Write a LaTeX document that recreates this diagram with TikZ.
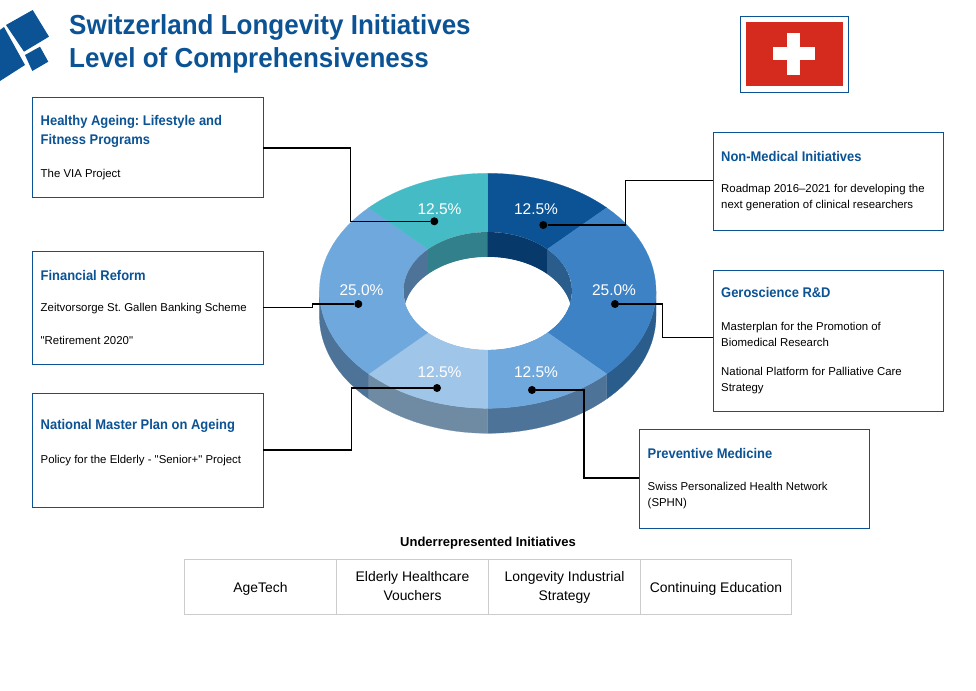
\documentclass[tikz,border=0pt]{standalone}
\usepackage{fontspec}
\setmainfont{Liberation Sans}
\newfontfamily\bodyfont{Liberation Sans}
\newfontfamily\titlefont[FakeStretch=0.945]{Liberation Sans}
\newfontfamily\headfont[FakeStretch=0.925]{Liberation Sans}
\frenchspacing
\definecolor{navy}{HTML}{0B5394}
\definecolor{cDark}{HTML}{0B5394}
\definecolor{cMid}{HTML}{3D82C5}
\definecolor{cLight}{HTML}{6FA8DC}
\definecolor{cPale}{HTML}{9FC5E8}
\definecolor{cTeal}{HTML}{45BBC6}
\definecolor{sMid}{HTML}{2A5D8C}
\definecolor{sLight}{HTML}{4E7399}
\definecolor{sPale}{HTML}{6F8BA4}
\definecolor{sTeal}{HTML}{31808B}
\definecolor{sDark}{HTML}{07396A}
\definecolor{flagred}{HTML}{D52B1E}
\definecolor{tblgrey}{HTML}{CCCCCC}
\def\cx{487.7}\def\cy{290.8}\def\rxo{168.3}\def\ryo{117.5}\def\rxi{84.15}\def\ryi{58.75}\def\dep{25}
\newcommand\ringpart[3]{\path[fill=#3,draw=#3,line width=.2pt]
  plot[domain=#1:#2,samples=30] ({\cx+\rxo*sin(\x)},{\cy-\ryo*cos(\x)}) --
  plot[domain=#2:#1,samples=30] ({\cx+\rxi*sin(\x)},{\cy-\ryi*cos(\x)}) -- cycle;}
\newcommand\outerwall[3]{\path[fill=#3,draw=#3,line width=.2pt]
  plot[domain=#1:#2,samples=30] ({\cx+\rxo*sin(\x)},{\cy-\ryo*cos(\x)}) --
  plot[domain=#2:#1,samples=30] ({\cx+\rxo*sin(\x)},{\cy+\dep-\ryo*cos(\x)}) -- cycle;}
\newcommand\innerwall[3]{\path[fill=#3,draw=#3,line width=.2pt]
  plot[domain=#1:#2,samples=30] ({\cx+\rxi*sin(\x)},{\cy-\ryi*cos(\x)}) --
  plot[domain=#2:#1,samples=30] ({\cx+\rxi*sin(\x)},{\cy+\dep-\ryi*cos(\x)}) -- cycle;}
\newcommand\twolines[2]{\rule{0pt}{12pt}#1\\#2\rule[-4pt]{0pt}{4pt}}
\tikzset{
  infobox/.style={draw=navy,line width=.9pt,fill=white,anchor=north west,inner sep=0pt,outer sep=0pt},
  headtext/.style={anchor=west,inner sep=0pt,font=\headfont\bfseries\fontsize{14}{19.5}\selectfont,text=navy,align=left},
  bodytext/.style={anchor=west,inner sep=0pt,font=\bodyfont\fontsize{11.4}{16}\selectfont,text=black,align=left},
  pct/.style={inner sep=0pt,font=\fontsize{15.5}{18}\selectfont,text=white},
  pin/.style={circle,fill=black,inner sep=0pt,minimum size=8pt},
  link/.style={draw=black,line width=1.5pt},
  cell/.style={draw=tblgrey,line width=.8pt,anchor=north west,inner sep=2pt,outer sep=0pt,minimum width=152pt,minimum height=55pt,align=center,font=\fontsize{13.9}{19}\selectfont},
  maintitle/.style={anchor=west,inner sep=0pt,font=\titlefont\bfseries\fontsize{27.5}{33}\selectfont,text=navy},
}
\begin{document}
\begin{tikzpicture}[x=1pt,y=-1pt]
\useasboundingbox (0,0) rectangle (976,690);
% logo
\fill[navy] (6,25) -- (32.7,10) -- (49,36.7) -- (24,51.7) -- cycle;
\fill[navy] (25,55) -- (40,46.7) -- (48.3,61.7) -- (32.3,71) -- cycle;
\fill[navy] (0,30) -- (4,27) -- (25,65) -- (0,81) -- cycle;
% title
\node[maintitle] (t1) at (69,27.5) {Switzerland Longevity Initiatives};
\node[maintitle] (t2) at (69,60.5) {Level of Comprehensiveness};
% flag
\node[draw=navy,line width=.9pt,anchor=north west,outer sep=0pt,minimum width=108pt,minimum height=76pt,inner sep=0pt] (flagbox) at (740,16) {};
\fill[flagred] (745.5,22) rectangle (843,86);
\fill[white] (773,47) rectangle (815,60);
\fill[white] (787,33) rectangle (800,75);
% donut outer walls
\outerwall{90}{135}{sMid}
\outerwall{135}{180}{sLight}
\outerwall{180}{225}{sPale}
\outerwall{225}{270}{sLight}
% top face
\ringpart{0}{45}{cDark}
\ringpart{45}{135}{cMid}
\ringpart{135}{180}{cLight}
\ringpart{180}{225}{cPale}
\ringpart{225}{315}{cLight}
\ringpart{315}{360}{cTeal}
% hole
\begin{scope}
\clip (\cx,\cy) ellipse [x radius=\rxi, y radius=\ryi];
\fill[white] (\cx,\cy) ellipse [x radius=\rxi, y radius=\ryi];
\innerwall{270}{315}{sLight}
\innerwall{315}{360}{sTeal}
\innerwall{0}{45}{sDark}
\innerwall{45}{90}{sMid}
\fill[white] (\cx,\cy+\dep) ellipse [x radius=\rxi, y radius=\ryi];
\end{scope}
% percentages
\node[pct] (p1) at (439.5,209.5) {12.5\%};
\node[pct] (p2) at (536,209.5) {12.5\%};
\node[pct] (p3) at (361.5,290.5) {25.0\%};
\node[pct] (p4) at (614,290.5) {25.0\%};
\node[pct] (p5) at (439.5,372) {12.5\%};
\node[pct] (p6) at (536,372) {12.5\%};
% boxes
\node[infobox,minimum width=230.5pt,minimum height=99.5pt] (b1) at (32.5,97.5) {};
\node[headtext] at (40.5,131.5) {Healthy Ageing: Lifestyle and\\Fitness Programs};
\node[bodytext] at (40.5,174.5) {The VIA Project};
\node[infobox,minimum width=230.5pt,minimum height=113pt] (b2) at (32.5,251) {};
\node[headtext] at (40.5,275) {Financial Reform};
\node[bodytext] at (40.5,309) {Zeitvorsorge St. Gallen Banking Scheme};
\node[bodytext] at (40.5,340.5) {"Retirement 2020"};
\node[infobox,minimum width=230.5pt,minimum height=113.5pt] (b3) at (32.5,393.5) {};
\node[headtext] at (40.5,426) {National Master Plan on Ageing};
\node[bodytext] at (40.5,460.5) {Policy for the Elderly - "Senior+" Project};
\node[infobox,minimum width=230.5pt,minimum height=98.5pt] (b4) at (713,132) {};
\node[headtext] at (721,156) {Non-Medical Initiatives};
\node[bodytext] at (721,197.5) {Roadmap 2016–2021 for developing the\\next generation of clinical researchers};
\node[infobox,minimum width=230.5pt,minimum height=141pt] (b5) at (713,270) {};
\node[headtext] at (721,292.5) {Geroscience R\&D};
\node[bodytext] at (721,334.5) {Masterplan for the Promotion of\\Biomedical Research};
\node[bodytext] at (721,381) {National Platform for Palliative Care\\Strategy};
\node[infobox,minimum width=230.5pt,minimum height=99pt] (b6) at (639,429) {};
\node[headtext] at (647.5,453.5) {Preventive Medicine};
\node[bodytext] at (647.5,495.5) {Swiss Personalized Health Network\\(SPHN)};
% pins
\node[pin] (d1) at (434.3,221.3) {};
\node[pin] (d2) at (358.3,304) {};
\node[pin] (d3) at (437,388) {};
\node[pin] (d4) at (543.3,225) {};
\node[pin] (d5) at (615,304) {};
\node[pin] (d6) at (532,390) {};
% connector bend points
\coordinate (j2a) at (312.7,304);
\coordinate (j2b) at (312.7,307.7);
\coordinate (s2) at (263,307.7);
\coordinate (s1) at (263,148);
\coordinate (s3) at (263,450);
\coordinate (s4) at (713,180.3);
\coordinate (s5) at (713,337.7);
\coordinate (s6) at (639,478);
\coordinate (k1) at (350.7,148);
\coordinate (k3) at (351.7,450);
\coordinate (k4) at (625.7,180.3);
\coordinate (k5) at (662.3,337.7);
\coordinate (k6) at (584,478);
\draw[link] (s1) -- (k1) |- (d1);
\draw[link] (s2) -- (j2b) -- (j2a) -- (d2);
\draw[link] (s3) -- (k3) |- (d3);
\draw[link] (s4) -- (k4) |- (d4);
\draw[link] (s5) -- (k5) |- (d5);
\draw[link] (s6) -- (k6) |- (d6);
% table
\node[anchor=center,inner sep=0pt,font=\bfseries\fontsize{13}{16}\selectfont] (uh) at (488,543) {Underrepresented Initiatives};
\node[cell] (c1) at (184.5,559.5) {\rule{0pt}{14pt}AgeTech};
\node[cell] (c2) at (336.5,559.5) {\twolines{Elderly Healthcare}{Vouchers}};
\node[cell] (c3) at (488.5,559.5) {\twolines{Longevity Industrial}{Strategy}};
\node[cell,minimum width=151pt] (c4) at (640.5,559.5) {\rule{0pt}{14pt}Continuing Education};
\end{tikzpicture}
\end{document}
